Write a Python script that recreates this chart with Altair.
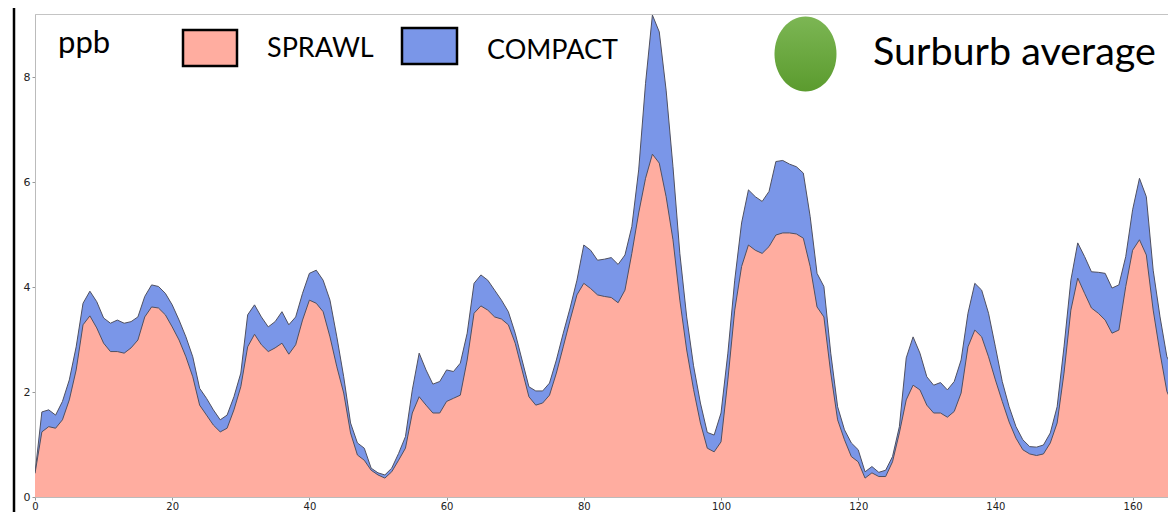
import altair as alt
import pandas as pd

hours = list(range(168))

compact = [0.45, 1.62, 1.66, 1.56, 1.82, 2.23, 2.86, 3.69, 3.92, 3.72,
           3.41, 3.31, 3.37, 3.31, 3.34, 3.43, 3.82, 4.04, 4.01, 3.88,
           3.66, 3.37, 3.05, 2.67, 2.07, 1.88, 1.66, 1.47, 1.56, 1.91,
           2.36, 3.47, 3.66, 3.43, 3.24, 3.34, 3.53, 3.28, 3.43, 3.88,
           4.26, 4.32, 4.13, 3.75, 3.05, 2.29, 1.41, 1.03, 0.93, 0.55,
           0.46, 0.42, 0.55, 0.83, 1.15, 2.04, 2.74, 2.42, 2.15, 2.20,
           2.42, 2.39, 2.55, 3.12, 4.07, 4.23, 4.13, 3.94, 3.75, 3.53,
           3.12, 2.61, 2.10, 2.02, 2.02, 2.17, 2.61, 3.12, 3.60, 4.13,
           4.80, 4.70, 4.51, 4.53, 4.56, 4.43, 4.61, 5.15, 6.23, 7.88,
           9.18, 8.86, 7.75, 6.29, 4.64, 3.43, 2.50, 1.79, 1.23, 1.18,
           1.60, 2.74, 4.13, 5.22, 5.85, 5.72, 5.63, 5.82, 6.39, 6.41,
           6.34, 6.29, 6.17, 5.34, 4.26, 4.01, 2.74, 1.72, 1.28, 1.03,
           0.90, 0.48, 0.58, 0.47, 0.51, 0.77, 1.34, 2.65, 3.05, 2.74,
           2.29, 2.13, 2.18, 2.04, 2.20, 2.61, 3.50, 4.07, 3.94, 3.50,
           2.86, 2.20, 1.72, 1.34, 1.09, 0.96, 0.95, 0.99, 1.22, 1.72,
           2.86, 4.13, 4.84, 4.58, 4.29, 4.28, 4.26, 3.98, 4.04, 4.58,
           5.47, 6.07, 5.72, 4.32, 3.43, 2.67, 2.42, 2.20]

sprawl = [0.45, 1.24, 1.34, 1.31, 1.47, 1.85, 2.42, 3.28, 3.45, 3.22,
          2.93, 2.77, 2.77, 2.74, 2.84, 2.99, 3.43, 3.62, 3.60, 3.47,
          3.24, 2.99, 2.67, 2.29, 1.75, 1.56, 1.37, 1.24, 1.31, 1.66,
          2.10, 2.86, 3.10, 2.90, 2.77, 2.84, 2.93, 2.72, 2.90, 3.37,
          3.75, 3.69, 3.53, 3.05, 2.48, 1.98, 1.22, 0.80, 0.70, 0.51,
          0.42, 0.36, 0.48, 0.70, 0.93, 1.60, 1.91, 1.75, 1.60, 1.60,
          1.82, 1.88, 1.94, 2.61, 3.50, 3.64, 3.56, 3.43, 3.39, 3.28,
          2.93, 2.42, 1.91, 1.75, 1.79, 1.94, 2.36, 2.86, 3.37, 3.85,
          4.07, 3.97, 3.85, 3.82, 3.80, 3.70, 3.94, 4.64, 5.41, 6.07,
          6.53, 6.36, 5.72, 4.90, 3.75, 2.80, 2.05, 1.41, 0.93, 0.86,
          1.05, 2.23, 3.56, 4.39, 4.80, 4.70, 4.64, 4.77, 4.99, 5.03,
          5.03, 5.01, 4.93, 4.39, 3.62, 3.43, 2.36, 1.47, 1.09, 0.77,
          0.67, 0.36, 0.46, 0.39, 0.39, 0.67, 1.22, 1.85, 2.13, 2.04,
          1.75, 1.60, 1.60, 1.52, 1.63, 1.98, 2.86, 3.18, 3.05, 2.67,
          2.23, 1.82, 1.43, 1.12, 0.90, 0.82, 0.79, 0.82, 1.03, 1.41,
          2.36, 3.56, 4.17, 3.88, 3.60, 3.50, 3.37, 3.12, 3.18, 4.01,
          4.70, 4.90, 4.61, 3.56, 2.74, 2.01, 1.72, 1.50]

x_ticks = [0, 20, 40, 60, 80, 100, 120, 140, 160]
y_ticks = [0, 2, 4, 6, 8]

legend_labels = ["ppb", "SPRAWL", "COMPACT", "Surburb average"]

PINK = "#FFADA0"
BLUE = "#7A96E8"
EDGE = "#4f5060"

df = pd.DataFrame({"t": hours, "compact": compact, "sprawl": sprawl})
one = pd.DataFrame({"k": [0]})

xscale = alt.Scale(domain=[0, 165.16], nice=False, zero=False)
yscale = alt.Scale(domain=[0, 9.2], nice=False)

xaxis = alt.Axis(values=x_ticks, title=None, grid=False, labelFlush=False,
                 labelFont="DejaVu Sans", labelFontSize=10, labelColor="#222",
                 tickColor="#999", tickSize=3, labelPadding=1, domainColor="#bbb")
yaxis = alt.Axis(values=y_ticks, title=None, grid=False,
                 labelFont="DejaVu Sans", labelFontSize=11, labelColor="#222",
                 tickColor="#999", tickSize=3, labelPadding=2, domainColor="#bbb")

base = alt.Chart(df)

area_compact = base.mark_area(
    color=BLUE, opacity=1, clip=True,
    line={"color": EDGE, "strokeWidth": 1}
).encode(
    x=alt.X("t:Q", scale=xscale, axis=xaxis),
    y=alt.Y("compact:Q", scale=yscale, axis=yaxis),
)

area_sprawl = base.mark_area(
    color=PINK, opacity=1, clip=True,
    line={"color": EDGE, "strokeWidth": 1}
).encode(
    x=alt.X("t:Q", scale=xscale),
    y=alt.Y("sprawl:Q", scale=yscale),
)

ann = alt.Chart(one)

left_edge = ann.mark_rule(color="#000", strokeWidth=2.5).encode(
    x=alt.value(-21), y=alt.value(-6), y2=alt.value(500)
)

pink_box = ann.mark_rect(fill=PINK, stroke="#000", strokeWidth=2.5).encode(
    x=alt.value(148), x2=alt.value(202), y=alt.value(16), y2=alt.value(52)
)
blue_box = ann.mark_rect(fill=BLUE, stroke="#000", strokeWidth=2.5).encode(
    x=alt.value(367), x2=alt.value(422), y=alt.value(14), y2=alt.value(50)
)

green = alt.Gradient(
    gradient="linear",
    stops=[alt.GradientStop(color="#7CB654", offset=0),
           alt.GradientStop(color="#5B9B2E", offset=1)],
    x1=0, x2=0, y1=0, y2=1,
)
ellipse = ann.mark_point(
    shape="M-0.827,0A0.827,1,0,1,0,0.827,0A0.827,1,0,1,0,-0.827,0Z",
    size=5625, filled=True, fill=green, opacity=1, strokeWidth=0,
).encode(x=alt.value(770.5), y=alt.value(40))

def label(text, x, y, size):
    return ann.mark_text(
        text=text, align="left", baseline="alphabetic",
        font="Lato", fontSize=size, color="#000",
    ).encode(x=alt.value(x), y=alt.value(y))

t_ppb = label(legend_labels[0], 23, 39, 31)
t_sprawl = label(legend_labels[1], 232, 43, 27)
t_compact = label(legend_labels[2], 452, 45, 27)
t_avg = label(legend_labels[3], 838, 51, 39.5)

chart = alt.layer(
    area_compact, area_sprawl, left_edge,
    pink_box, blue_box, ellipse,
    t_ppb, t_sprawl, t_compact, t_avg,
).properties(
    width=1133, height=483,
    autosize=alt.AutoSizeParams(type="none"),
    padding={"left": 27, "top": 6, "right": 0, "bottom": 15},
).configure_view(stroke="#c4c4c4", strokeWidth=1)

chart.save("out.html", embed_options={"renderer": "svg", "actions": False})
